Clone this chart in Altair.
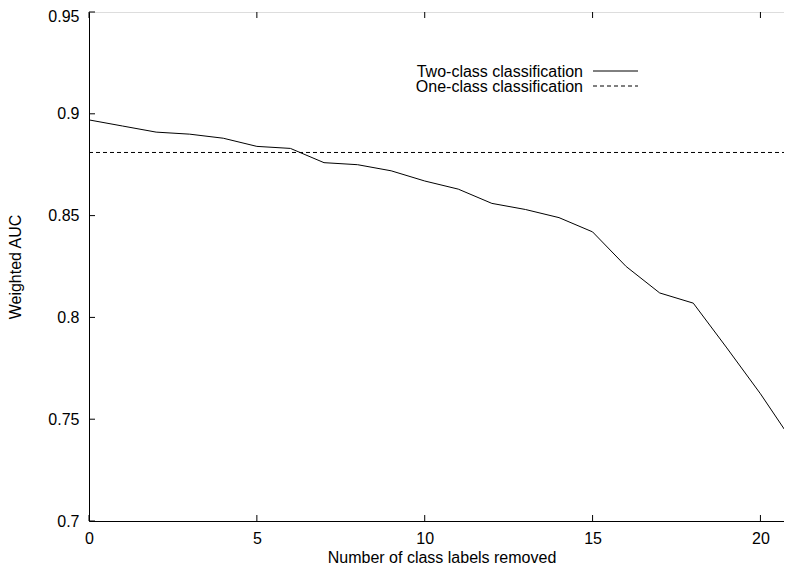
import altair as alt
import pandas as pd

# ---- data ----
x_removed = list(range(22))
two_class_auc = [0.897, 0.894, 0.891, 0.890, 0.888, 0.884, 0.883, 0.876, 0.875,
                 0.872, 0.867, 0.863, 0.856, 0.853, 0.849, 0.842, 0.825, 0.812,
                 0.807, 0.785, 0.7625, 0.738]
one_class_x = [0, 21]
one_class_auc = [0.881, 0.881]
x_tick_values = [0, 5, 10, 15, 20]
y_tick_values = [0.7, 0.75, 0.8, 0.85, 0.9, 0.95]
legend_labels = ["Two-class classification", "One-class classification"]

W, H = 705, 509
FONT = "Liberation Sans"
FS = 16

df_two = pd.DataFrame({"x": x_removed, "auc": two_class_auc})
df_one = pd.DataFrame({"x": one_class_x, "auc": one_class_auc})
df_xt = pd.DataFrame({"x": x_tick_values})
df_yt = pd.DataFrame({"auc": y_tick_values})

xscale = alt.Scale(domain=[0, 21], nice=False, zero=False)
yscale = alt.Scale(domain=[0.7, 0.95], nice=False, zero=False)

common_axis = dict(tickSize=0, grid=False, domainColor="black", labelColor="black",
                   titleColor="black", labelFont=FONT, titleFont=FONT,
                   labelFontSize=FS, titleFontSize=FS, titleFontWeight="normal",
                   labelFlush=False)
xaxis = alt.Axis(values=x_tick_values, title="Number of class labels removed",
                 labelPadding=9, titleBaseline="alphabetic", titleY=41,
                 **common_axis)
yaxis = alt.Axis(values=y_tick_values, title="Weighted AUC", format="~g",
                 labelPadding=10, titlePadding=24,
                 labelOffset={"condition": {"test": "datum.value >= 0.949", "value": 4},
                              "value": 0},
                 **common_axis)

X = alt.X("x:Q", scale=xscale, axis=xaxis)
Y = alt.Y("auc:Q", scale=yscale, axis=yaxis)

two = alt.Chart(df_two).mark_line(color="black", strokeWidth=1).encode(x=X, y=Y)
one = alt.Chart(df_one).mark_line(color="black", strokeWidth=1,
                                  strokeDash=[4, 3]).encode(x=X, y=Y)

tick_style = dict(color="black", thickness=1, size=6, opacity=1)
yt_left = alt.Chart(df_yt).mark_tick(**tick_style).encode(y=Y, x=alt.value(3))
yt_right = alt.Chart(df_yt).mark_tick(**tick_style).encode(y=Y, x=alt.value(W - 3))
xt_bottom = alt.Chart(df_xt).mark_tick(**tick_style).encode(x=X, y=alt.value(H - 3))
xt_top = alt.Chart(df_xt).mark_tick(**tick_style).encode(x=X, y=alt.value(3))

leg_layers = []
for i, (lab, dash) in enumerate(zip(legend_labels, [[1, 0], [4, 3]])):
    ly = 60 + i * 15
    d = pd.DataFrame({"label": [lab]})
    leg_layers.append(
        alt.Chart(d).mark_text(align="right", baseline="middle", font=FONT,
                               fontSize=FS, color="black")
        .encode(text="label:N", x=alt.value(494), y=alt.value(ly))
    )
    leg_layers.append(
        alt.Chart(d).mark_rule(color="black", strokeWidth=1, strokeDash=dash)
        .encode(x=alt.value(504), x2=alt.value(549), y=alt.value(ly - 1))
    )

chart = alt.layer(two, one, yt_left, yt_right, xt_bottom, xt_top, *leg_layers).properties(
    width=W, height=H,
    autosize=alt.AutoSizeParams(type="none"),
    padding={"left": 81, "top": 4, "right": -10, "bottom": 44},
).configure_view(stroke="black", strokeWidth=1).configure(background="white")

chart.save("out.html", embed_options={"renderer": "svg", "actions": False})
